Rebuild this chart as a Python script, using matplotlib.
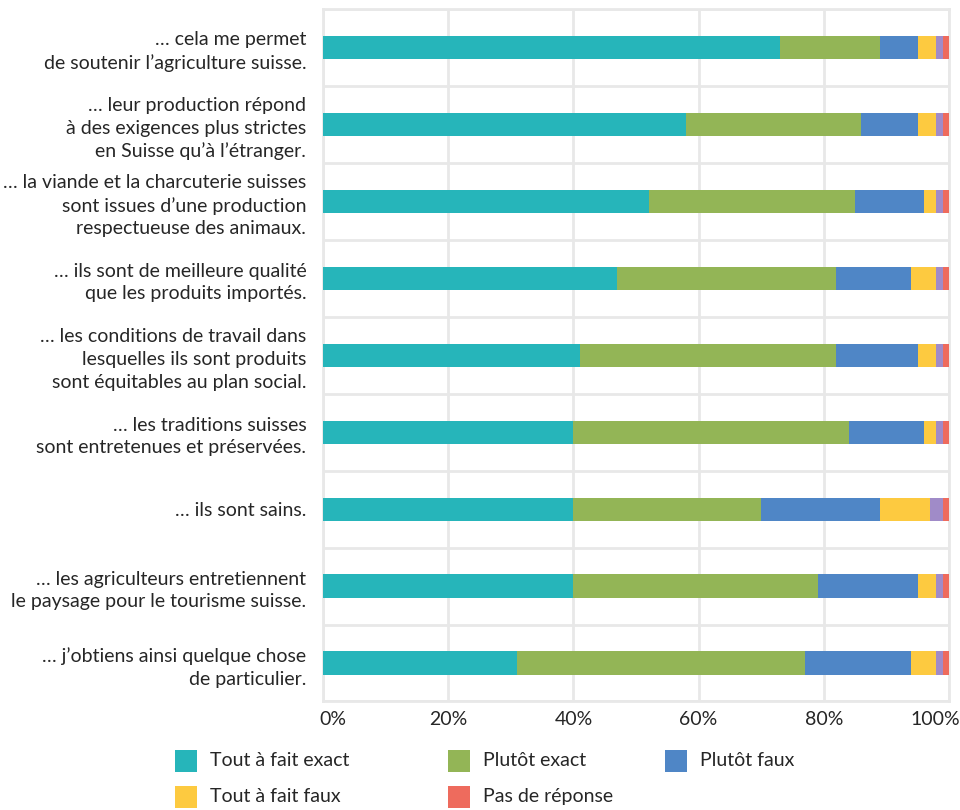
import matplotlib
matplotlib.use("Agg")
import matplotlib.pyplot as plt
import matplotlib.patches as patches
import matplotlib.transforms as mtransforms
import numpy as np

plt.rcParams['font.family'] = ['Lato', 'DejaVu Sans']

statements = [
    "… cela me permet\nde soutenir l’agriculture suisse.",
    "… leur production répond\nà des exigences plus strictes\nen Suisse qu’à l’étranger.",
    "… la viande et la charcuterie suisses\nsont issues d’une production\nrespectueuse des animaux.",
    "… ils sont de meilleure qualité\nque les produits importés.",
    "… les conditions de travail dans\nlesquelles ils sont produits\nsont équitables au plan social.",
    "… les traditions suisses\nsont entretenues et préservées.",
    "… ils sont sains.",
    "… les agriculteurs entretiennent\nle paysage pour le tourisme suisse.",
    "… j’obtiens ainsi quelque chose\nde particulier.",
]

# shares in percent, one value per statement
tout_exact = [73, 58, 52, 47, 41, 40, 40, 40, 31]
plutot_exact = [16, 28, 33, 35, 41, 44, 30, 39, 46]
plutot_faux = [6, 9, 11, 12, 13, 12, 19, 16, 17]
tout_faux = [3, 3, 2, 4, 3, 2, 8, 3, 4]
ne_sait_pas = [1, 1, 1, 1, 1, 1, 2, 1, 1]
pas_reponse = [1, 1, 1, 1, 1, 1, 1, 1, 1]

legend_labels = ["Tout à fait exact", "Plutôt exact", "Plutôt faux",
                 "Tout à fait faux", "Pas de réponse"]
x_ticks = [0, 20, 40, 60, 80, 100]

series = [tout_exact, plutot_exact, plutot_faux, tout_faux, ne_sait_pas, pas_reponse]
colors = ['#26B5BA', '#93B556', '#4F86C6', '#FDCA40', '#A08BC8', '#EE6B5D']
grid_color = '#E8E8E8'
text_color = '#262626'
fs = 14

fig = plt.figure(figsize=(9.6, 8.1), dpi=100)
ax = fig.add_axes([0.3365, 0.134, 0.652, 0.855])

y = np.arange(len(statements))
left = np.zeros(len(statements))
for vals, col in zip(series, colors):
    ax.barh(y, vals, left=left, height=0.3, color=col, zorder=3)
    left += np.array(vals)

ax.set_xlim(0, 100)
ax.set_ylim(len(statements) - 0.5, -0.5)
ax.set_xticks(x_ticks)
ax.set_xticklabels([f"{t}%" for t in x_ticks], fontsize=fs, color=text_color)
ax.set_yticks(y)
ax.set_yticklabels(statements, fontsize=fs, color=text_color, linespacing=1.4)
ax.set_yticks(np.arange(len(statements) + 1) - 0.5, minor=True)
ax.tick_params(axis='both', which='both', length=0)
ax.tick_params(axis='y', pad=12)
ax.tick_params(axis='x', pad=7)

# keep the end labels inside the figure
xlabels = ax.get_xticklabels()
xlabels[0].set_transform(xlabels[0].get_transform() +
                         mtransforms.ScaledTranslation(10 / 100, 0, fig.dpi_scale_trans))
xlabels[-1].set_transform(xlabels[-1].get_transform() +
                          mtransforms.ScaledTranslation(-14 / 100, 0, fig.dpi_scale_trans))

ax.grid(axis='x', which='major', color=grid_color, linewidth=2, zorder=0)
ax.grid(axis='y', which='minor', color=grid_color, linewidth=2, zorder=0)
for sp in ax.spines.values():
    sp.set_color(grid_color)
    sp.set_linewidth(2)

# legend laid out in two rows below the axis
legend_pos = [(0.182, 0.047), (0.467, 0.047), (0.693, 0.047),
              (0.182, 0.003), (0.467, 0.003)]
legend_colors = [colors[0], colors[1], colors[2], colors[3], colors[5]]
sw = 22 / 960
sh = 22 / 810
for (lx, ly), lab, col in zip(legend_pos, legend_labels, legend_colors):
    fig.patches.append(patches.Rectangle((lx, ly), sw, sh, transform=fig.transFigure,
                                         facecolor=col, edgecolor='none'))
    fig.text(lx + sw + 13 / 960, ly + sh / 2, lab, fontsize=fs, color=text_color,
             va='center', ha='left')

fig.savefig("out.png", dpi=100)
